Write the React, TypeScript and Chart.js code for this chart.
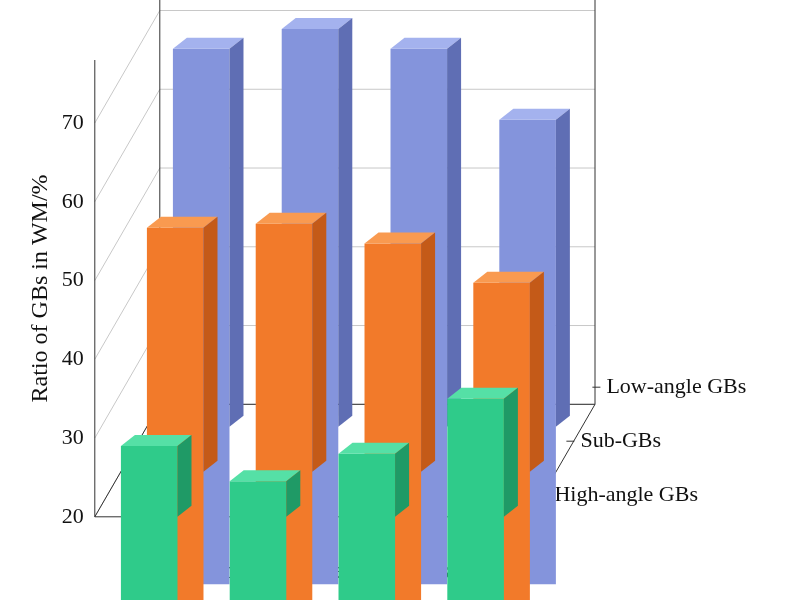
import React, { useEffect, useRef } from "react";
import { Chart, registerables } from "chart.js";
Chart.register(...registerables);

const categories = ["1", "2", "3", "4"];
const seriesNames = ["High-angle GBs", "Sub-GBs", "Low-angle GBs"];
const highAngle = [29, 24.5, 28, 35];
const subGBs = [51, 51.5, 49, 44];
const lowAngle = [68, 70.5, 68, 59];
const yTicks = [20, 30, 40, 50, 60, 70];

const fronts = ["#2fcb8a", "#f27a2a", "#8494dc"];
const tops = ["#55e0a6", "#f99a50", "#a4b2ee"];
const sides = ["#1f9a66", "#c45a18", "#5f6eb4"];
const ROW = { dx: 26, dy: -45 };
const DEPTH = { dx: 14, dy: -11 };
const FONT = "'Liberation Serif', 'DejaVu Serif', serif";

const depth3d = {
  id: "depth3d",
  beforeDraw(chart: any) {
    const { ctx, scales } = chart;
    const y = scales.y, x = scales.x;
    const l = x.left, r = x.right;
    ctx.save();
    ctx.strokeStyle = "#c8c8c8";
    ctx.lineWidth = 1;
    const bx = 2.5 * ROW.dx, by = 2.5 * ROW.dy;
    for (const t of yTicks) {
      const py = y.getPixelForValue(t);
      ctx.beginPath();
      ctx.moveTo(l, py);
      ctx.lineTo(l + bx, py + by);
      ctx.lineTo(r + bx, py + by);
      ctx.stroke();
    }
    ctx.strokeStyle = "#333";
    const p0 = y.getPixelForValue(20), pt = y.getPixelForValue(78);
    ctx.beginPath();
    ctx.moveTo(l, pt); ctx.lineTo(l, p0); ctx.lineTo(l + bx, p0 + by); ctx.lineTo(l + bx, pt + by - 20);
    ctx.moveTo(l, p0); ctx.lineTo(r, p0); ctx.lineTo(r + bx, p0 + by);
    ctx.moveTo(r + bx, p0 + by); ctx.lineTo(l + bx, p0 + by);
    ctx.moveTo(r + bx, p0 + by); ctx.lineTo(r + bx, pt + by - 20);
    ctx.stroke();
    ctx.fillStyle = "#111";
    ctx.font = `22px ${FONT}`;
    ctx.textBaseline = "middle";
    for (let i = 0; i < 3; i++) {
      const ox = r + (0.4 + i) * ROW.dx, oy = p0 + (0.4 + i) * ROW.dy * 1.2;
      ctx.beginPath(); ctx.moveTo(ox, oy); ctx.lineTo(ox + 8, oy); ctx.stroke();
      ctx.fillText(seriesNames[i], ox + 14, oy);
    }
    ctx.restore();
  },
  beforeDatasetDraw(chart: any, args: any) {
    const i = args.index;
    chart.ctx.save();
    chart.ctx.translate(i * ROW.dx, i * ROW.dy);
  },
  afterDatasetDraw(chart: any, args: any) {
    const { ctx } = chart;
    const i = args.index;
    const meta = chart.getDatasetMeta(i);
    const base = chart.scales.y.getPixelForValue(20);
    for (const el of meta.data) {
      const w = el.width, x0 = el.x - w / 2, x1 = el.x + w / 2, top = el.y;
      ctx.fillStyle = tops[i];
      ctx.beginPath();
      ctx.moveTo(x0, top); ctx.lineTo(x1, top);
      ctx.lineTo(x1 + DEPTH.dx, top + DEPTH.dy); ctx.lineTo(x0 + DEPTH.dx, top + DEPTH.dy);
      ctx.closePath(); ctx.fill();
      ctx.fillStyle = sides[i];
      ctx.beginPath();
      ctx.moveTo(x1, top); ctx.lineTo(x1 + DEPTH.dx, top + DEPTH.dy);
      ctx.lineTo(x1 + DEPTH.dx, base + DEPTH.dy); ctx.lineTo(x1, base);
      ctx.closePath(); ctx.fill();
    }
    ctx.restore();
  },
};

export default function App() {
  const ref = useRef<HTMLCanvasElement>(null);
  useEffect(() => {
    const data = [highAngle, subGBs, lowAngle];
    const chart = new Chart(ref.current!, {
      type: "bar",
      data: {
        labels: categories,
        datasets: data.map((d, i) => ({
          label: seriesNames[i],
          data: d,
          backgroundColor: fronts[i],
          grouped: false,
          clip: false,
          barPercentage: 0.52,
          categoryPercentage: 1,
        })),
      },
      options: {
        animation: false,
        responsive: false,
        layout: { padding: { left: 22, right: 262, top: 60, bottom: 10 } },
        plugins: { legend: { display: false }, tooltip: { enabled: false } },
        scales: {
          x: {
            grid: { display: false },
            border: { display: false },
            ticks: { color: "#111", font: { family: FONT, size: 22 } },
            title: { display: true, text: "Number of tempering cycles", color: "#111", font: { family: FONT, size: 24 }, padding: { top: 0 } },
          },
          y: {
            min: 20,
            max: 78,
            afterBuildTicks: (s: any) => { s.ticks = yTicks.map((v) => ({ value: v })); },
            grid: { display: false },
            border: { display: false },
            ticks: { color: "#111", font: { family: FONT, size: 22 } },
            title: { display: true, text: "Ratio of GBs in WM/%", color: "#111", font: { family: FONT, size: 24 } },
          },
        },
      },
      plugins: [depth3d],
    });
    return () => chart.destroy();
  }, []);
  return (
    <div style={{ position: "fixed", left: 0, top: 0, width: 792, height: 600, background: "#fff" }}>
      <canvas ref={ref} width={792} height={600} />
    </div>
  );
}
